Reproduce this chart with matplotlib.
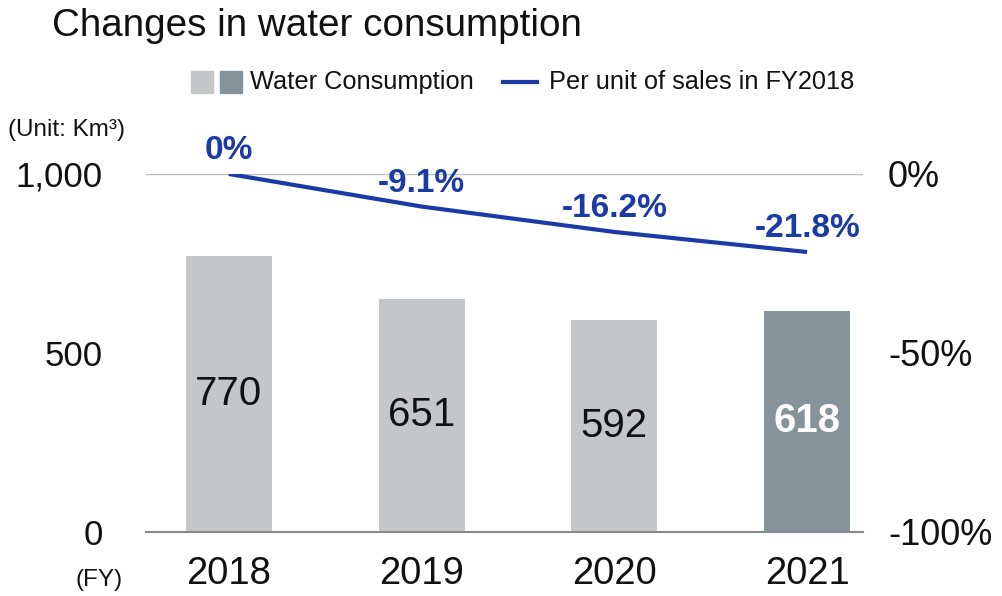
import matplotlib.pyplot as plt
from matplotlib.patches import Rectangle
from matplotlib.lines import Line2D
from matplotlib.ticker import FuncFormatter

plt.rcParams['font.family'] = ['Liberation Sans', 'DejaVu Sans']

# Dados: consumo de água (mil m³) e variação por unidade de vendas
anos = ['2018', '2019', '2020', '2021']
consumo = [770, 651, 592, 618]
por_unidade = [0, -9.1, -16.2, -21.8]

cor_clara = '#c5c6c8'
cor_escura = '#85939a'
cor_linha = '#1b3aa6'

fig = plt.figure(figsize=(10.02, 5.96), dpi=100)
ax = fig.add_axes([0.1457, 0.1074, 0.7156, 0.6007])

x = list(range(len(anos)))
cores = [cor_clara] * 3 + [cor_escura]
ax.bar(x, consumo, width=0.447, color=cores, zorder=2)

for i, v in enumerate(consumo):
    ultimo = i == len(consumo) - 1
    ax.text(i, v / 2, str(v), ha='center', va='center', fontsize=29,
            color='white' if ultimo else '#111111',
            fontweight='bold' if ultimo else 'normal', zorder=3)

ax.set_xlim(-0.43, 3.29)
ax.set_ylim(0, 1000)
ax.set_yticks([0, 500, 1000])
ax.yaxis.set_major_formatter(FuncFormatter(lambda v, p: f'{int(v):,}'))
ax.axhline(1000, color='#bbbbbb', linewidth=1, zorder=1)
ax.set_xticks(x)
ax.set_xticklabels(anos)
ax.tick_params(axis='both', length=0, colors='#111111')
ax.tick_params(axis='x', pad=17, labelsize=27.5)
ax.tick_params(axis='y', pad=31, labelsize=25)
for s in ['top', 'right', 'left']:
    ax.spines[s].set_visible(False)
ax.spines['bottom'].set_color('#888888')
ax.spines['bottom'].set_linewidth(1.5)

# Eixo secundário (percentual)
ax2 = ax.twinx()
ax2.plot(x, por_unidade, color=cor_linha, linewidth=3, zorder=4,
         solid_capstyle='butt')
ax2.set_ylim(-100, 0)
ax2.set_yticks([-100, -50, 0])
ax2.yaxis.set_major_formatter(FuncFormatter(lambda v, p: f'{int(v)}%'))
ax2.tick_params(axis='y', length=0, labelsize=26, colors='#111111', pad=18)
for s in ax2.spines.values():
    s.set_visible(False)

for i, v in enumerate(por_unidade):
    txt = f'{v:g}%' if v == 0 else f'{v:.1f}%'
    ax2.text(i, v + 6.5, txt, ha='center', va='center', fontsize=24,
             fontweight='bold', color=cor_linha)

fig.text(0.052, 0.957, 'Changes in water consumption', fontsize=27.8,
         ha='left', va='center', color='#111111')
fig.text(0.008, 0.782, '(Unit: Km³)', fontsize=17.5, ha='left',
         va='center', color='#111111')
fig.text(0.075, 0.027, '(FY)', fontsize=17.5, ha='left', va='center',
         color='#111111')

# Legenda desenhada à mão
fig.patches.append(Rectangle((0.1906, 0.8440), 0.022, 0.0369, color=cor_clara,
                             transform=fig.transFigure, figure=fig))
fig.patches.append(Rectangle((0.2196, 0.8440), 0.022, 0.0369, color=cor_escura,
                             transform=fig.transFigure, figure=fig))
fig.text(0.2495, 0.8624, 'Water Consumption', fontsize=18.3, ha='left',
         va='center', color='#111111')
fig.lines.append(Line2D([0.502, 0.536], [0.8624, 0.8624], color=cor_linha,
                        linewidth=3, transform=fig.transFigure, figure=fig))
fig.text(0.548, 0.8624, 'Per unit of sales in FY2018', fontsize=18.3,
         ha='left', va='center', color='#111111')

fig.savefig('out.png', dpi=100)
